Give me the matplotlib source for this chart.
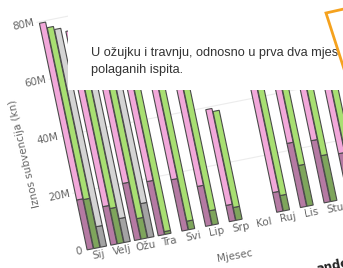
import matplotlib.pyplot as plt
import numpy as np
from matplotlib.patches import Rectangle, Polygon
from matplotlib.transforms import Affine2D, IdentityTransform

# Data (values in millions kn)
months = ['Sij', 'Velj', 'Ožu', 'Tra', 'Svi', 'Lip', 'Srp', 'Kol', 'Ruj', 'Lis', 'Stu', 'Pro']
pink_total = [79.5, 75, 74, 73, 72, 71, 39.3, 0, 74, 73, 72, 70]
pink_lower = [17.5, 13.5, 20, 19, 18, 14, 5.7, 0, 6.9, 22.5, 21.8, 15.6]
green_total = [77.5, 74, 73, 72, 71, 70, 38.2, 0, 73, 72, 71, 69]
green_lower = [17.2, 12.4, 7.2, 1, 3, 5, 4.5, 0, 5.4, 14.3, 16.1, 12]
gray_total = [76.4, 73, 72, 0, 0, 0, 0, 0, 0, 0, 0, 0]
gray_lower = [7.2, 8.4, 12, 0, 0, 0, 0, 0, 0, 0, 0, 0]
yticks = [0, 20, 40, 60, 80]
ytick_labels = ['0', '20M', '40M', '60M', '80M']

W, H = 343, 268
fig = plt.figure(figsize=(W / 100, H / 100), dpi=100)
ax = fig.add_axes([0, 0, 1, 1])
ax.set_xlim(-0.5, 11.5)
ax.set_ylim(0, 80)
ax.axis('off')

# screenshot is taken at an angle: map the flat axes box onto the tilted one
tilt = Affine2D().from_values(23.7 * 12 / W, 4.7 * 12 / W, -0.6 * 80 / H, 2.85 * 80 / H, 85, 17.7)
tr = ax.transData + tilt

x = np.arange(len(months))

# gridlines
for v in yticks[1:]:
    ax.plot([-0.5, 11.5], [v, v], color='#ececec', lw=0.8, transform=tr, zorder=0)

series = [
    (pink_total, pink_lower, '#f2a8da', '#b57aa3', -0.28),
    (green_total, green_lower, '#a8df72', '#7ea55c', 0.0),
    (gray_total, gray_lower, '#d4d4d4', '#a3a3a3', 0.28),
]
for total, lower, light, dark, off in series:
    total = np.array(total)
    lower = np.array(lower)
    m = total > 0
    ax.bar(x[m] + off, lower[m], 0.26, color=dark, edgecolor='#4a4a4a', linewidth=0.8,
           transform=tr, zorder=2)
    ax.bar(x[m] + off, total[m] - lower[m], 0.26, bottom=lower[m], color=light,
           edgecolor='#4a4a4a', linewidth=0.8, transform=tr, zorder=2)

# tick labels
for v, lab in zip(yticks, ytick_labels):
    ax.text(-0.62, v, lab, transform=tr, ha='right', va='center', rotation=12,
            rotation_mode='anchor', fontsize=7.5, color='#666666')
for i, lab in enumerate(months):
    ax.text(i, -2.6, lab, transform=tr, ha='center', va='center', rotation=11,
            rotation_mode='anchor', fontsize=7.5, color='#666666')

fig.text(25 / W, 1 - 153 / H, 'Iznos subvencija (kn)', rotation=103, ha='center', va='center',
         fontsize=7.5, color='#666666')
fig.text(235 / W, 1 - 256 / H, 'Mjesec', rotation=10, ha='center', va='center',
         fontsize=7.5, color='#666666')

# tooltip overlay
fig.add_artist(Rectangle((68 / W, 1 - 90 / H), 1, 90 / H, transform=fig.transFigure,
                         facecolor='white', edgecolor='none', zorder=5))
fig.text(91 / W, 1 - 53 / H, 'U ožujku i travnju, odnosno u prva dva mjeseca', ha='left', va='center',
         fontsize=9.2, family='Liberation Sans', color='#333333', zorder=6)
fig.text(91 / W, 1 - 70 / H, 'polaganih ispita.', ha='left', va='center',
         fontsize=9.2, family='Liberation Sans', color='#333333', zorder=6)

# orange highlight box on the right
box = [(326, 13), (393, -2), (420, 100), (354, 100)]
fig.add_artist(Polygon([(px, H - py) for px, py in box], closed=True, transform=IdentityTransform(),
                       facecolor='white', edgecolor='#f5a21e', linewidth=2, zorder=7))

fig.text(315 / W, 1 - 265 / H, 'andeks', rotation=12, ha='left', va='center', fontsize=8.5,
         fontweight='bold', color='#222222')

plt.savefig('out.png', dpi=100)
plt.close()
